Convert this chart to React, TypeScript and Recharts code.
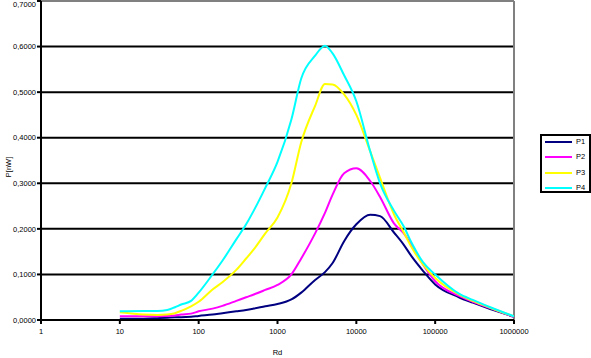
import React from 'react';
import { LineChart, Line, XAxis, YAxis, CartesianGrid, ReferenceLine } from 'recharts';

const rd = [10, 20, 30, 40, 50, 60, 80, 100, 150, 200, 300, 400, 500, 700, 1000, 1500, 2000, 3000, 4000, 5000, 7000, 10000, 15000, 20000, 30000, 40000, 50000, 70000, 100000, 200000, 300000, 500000, 1000000];
const p1 = [0.003, 0.003, 0.004, 0.005, 0.006, 0.006, 0.007, 0.009, 0.012, 0.015, 0.019, 0.022, 0.025, 0.030, 0.035, 0.045, 0.060, 0.088, 0.105, 0.125, 0.173, 0.210, 0.231, 0.228, 0.192, 0.165, 0.140, 0.108, 0.078, 0.050, 0.038, 0.024, 0.007];
const p2 = [0.008, 0.008, 0.008, 0.009, 0.010, 0.012, 0.014, 0.019, 0.025, 0.031, 0.042, 0.050, 0.056, 0.066, 0.077, 0.100, 0.135, 0.190, 0.235, 0.275, 0.322, 0.333, 0.305, 0.270, 0.212, 0.190, 0.165, 0.122, 0.085, 0.053, 0.040, 0.026, 0.007];
const p3 = [0.017, 0.012, 0.011, 0.012, 0.015, 0.020, 0.030, 0.040, 0.067, 0.083, 0.110, 0.135, 0.155, 0.190, 0.225, 0.300, 0.390, 0.470, 0.518, 0.517, 0.495, 0.450, 0.370, 0.312, 0.232, 0.192, 0.160, 0.122, 0.092, 0.056, 0.042, 0.027, 0.008];
const p4 = [0.019, 0.020, 0.020, 0.022, 0.028, 0.034, 0.042, 0.060, 0.100, 0.130, 0.177, 0.210, 0.240, 0.290, 0.347, 0.440, 0.530, 0.580, 0.602, 0.585, 0.537, 0.480, 0.370, 0.300, 0.240, 0.205, 0.170, 0.127, 0.100, 0.058, 0.044, 0.028, 0.008];

const xTicks = [1, 10, 100, 1000, 10000, 100000, 1000000];
const yTicks = [0, 0.1, 0.2, 0.3, 0.4, 0.5, 0.6, 0.7];
const gridValues = [0.1, 0.2, 0.3, 0.4, 0.5, 0.6];

const seriesNames = ['P1', 'P2', 'P3', 'P4'];
const seriesColors = ['#000080', '#FF00FF', '#FFFF00', '#00FFFF'];

const data = rd.map((x, i) => ({
  rd: x,
  P1: p1[i],
  P2: p2[i],
  P3: p3[i],
  P4: p4[i],
}));

const FONT = '"Liberation Sans", Arial, sans-serif';

const LegendBox = () => (
  <div
    style={{
      position: 'absolute',
      left: 540,
      top: 134,
      width: 47,
      height: 55,
      border: '2px solid #000',
      background: '#fff',
      boxSizing: 'content-box',
      fontFamily: FONT,
      fontSize: 7.5,
    }}
  >
    {seriesNames.map((name, i) => (
      <div key={name} style={{ position: 'absolute', left: 3, top: 1 + i * 15.3, height: 10, display: 'flex', alignItems: 'center' }}>
        <svg width={28} height={4} style={{ display: 'block' }}>
          <line x1={0} y1={2} x2={27} y2={2} stroke={seriesColors[i]} strokeWidth={2} />
        </svg>
        <span style={{ marginLeft: 3, color: '#000', lineHeight: '10px' }}>{name}</span>
      </div>
    ))}
  </div>
);

export default function App() {
  return (
    <div style={{ position: 'absolute', left: 0, top: 0, width: 591, height: 358, background: '#fff' }}>
      <LineChart width={591} height={358} data={data} margin={{ top: 1, right: 77, bottom: 0, left: 0 }}>
        <CartesianGrid horizontal vertical={false} horizontalValues={gridValues} stroke="#000" strokeWidth={2} />
        <ReferenceLine y={0.7} stroke="#808080" strokeWidth={2} />
        <ReferenceLine x={1000000} stroke="#808080" strokeWidth={2} />
        <XAxis
          dataKey="rd"
          type="number"
          scale="log"
          domain={[1, 1000000]}
          ticks={xTicks}
          allowDataOverflow
          height={38}
          tickSize={4}
          tickMargin={5}
          axisLine={{ stroke: '#000', strokeWidth: 2 }}
          tickLine={{ stroke: '#000', strokeWidth: 2 }}
          tick={{ fill: '#000', fontSize: 7.5, fontFamily: FONT }}
          tickFormatter={(v: number) => String(v)}
          label={{ value: 'Rd', position: 'insideBottom', offset: 3, fill: '#000', fontSize: 7.5, fontFamily: FONT }}
        />
        <YAxis
          type="number"
          domain={[0, 0.7]}
          ticks={yTicks}
          width={41}
          tickSize={4}
          tickMargin={1}
          axisLine={{ stroke: '#000', strokeWidth: 2 }}
          tickLine={{ stroke: '#000', strokeWidth: 2 }}
          tick={{ fill: '#000', fontSize: 7.5, fontFamily: FONT }}
          tickFormatter={(v: number) => v.toFixed(4).replace('.', ',')}
          label={{
            content: () => (
              <text x={9} y={167} transform="rotate(-90 9 167)" textAnchor="middle" dominantBaseline="middle" fill="#000" fontSize={7.5} fontFamily={FONT}>
                P[nW]
              </text>
            ),
          }}
        />
        {seriesNames.map((name, i) => (
          <Line
            key={name}
            dataKey={name}
            type="monotone"
            stroke={seriesColors[i]}
            strokeWidth={2}
            dot={false}
            activeDot={false}
            isAnimationActive={false}
          />
        ))}
      </LineChart>
      <LegendBox />
    </div>
  );
}
